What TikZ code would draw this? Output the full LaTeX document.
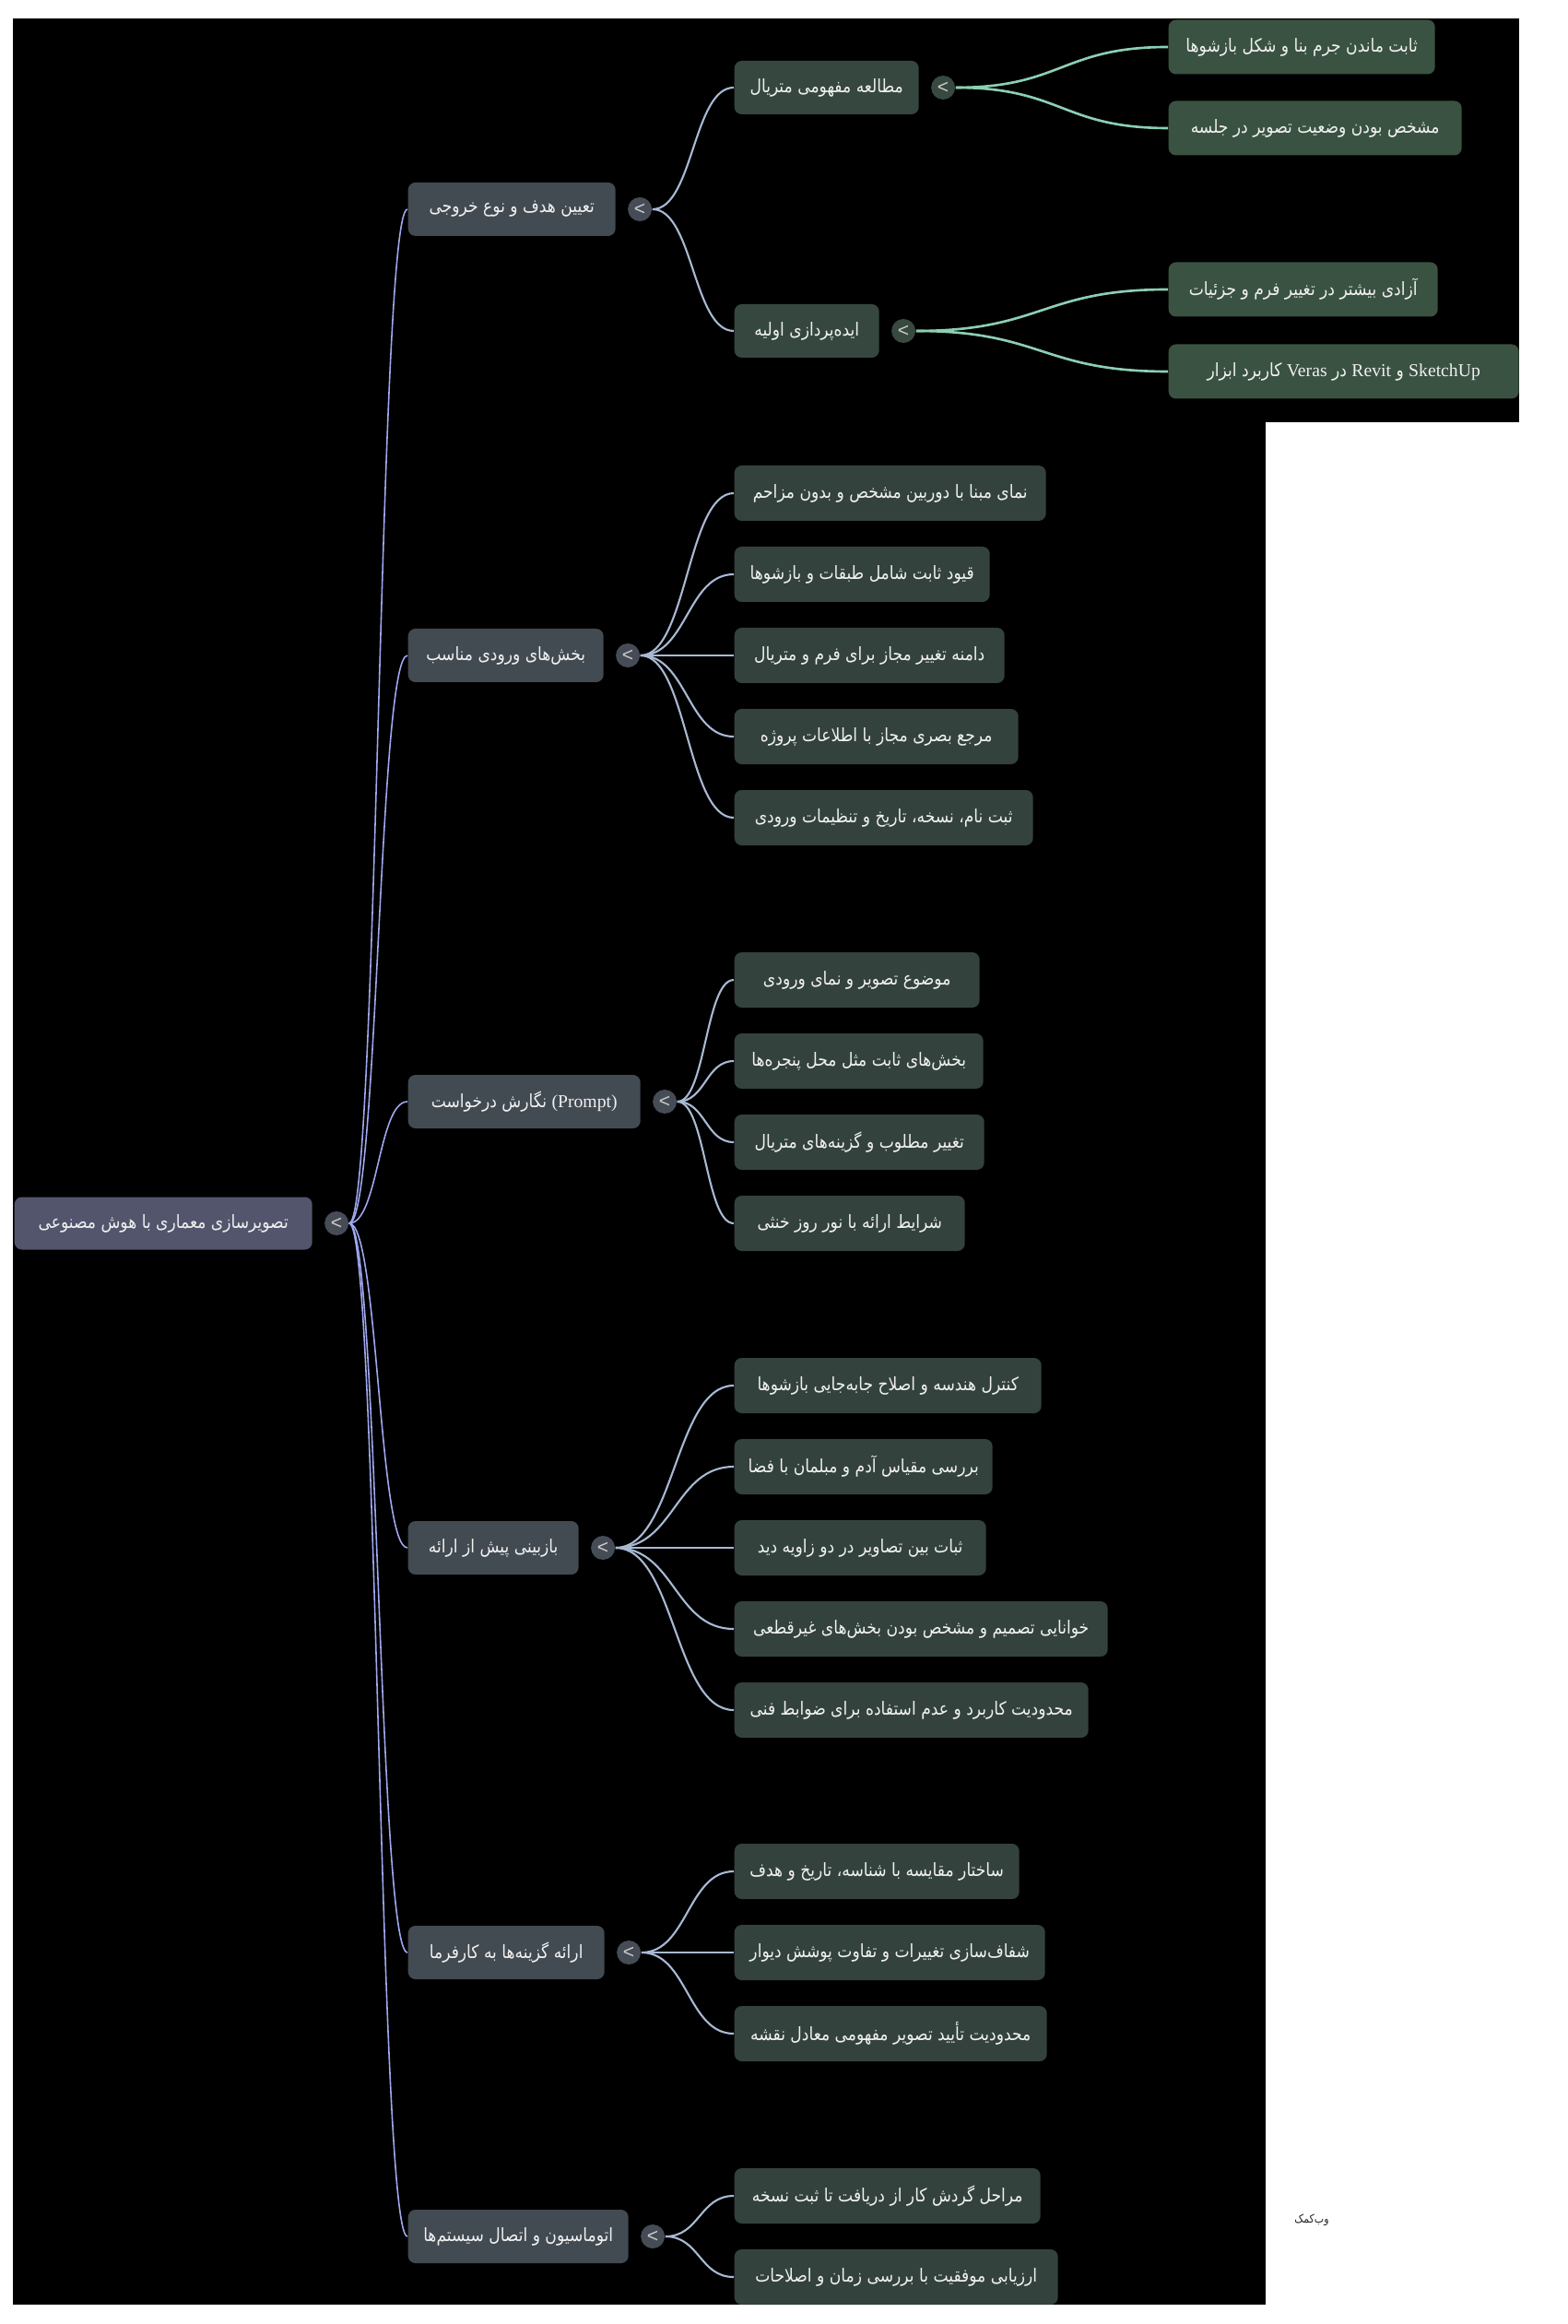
\documentclass[tikz,border=0pt]{standalone}
\usepackage{fontspec}
\usepackage{tikz}
\usetikzlibrary{positioning,calc}
\setmainfont{Liberation Serif}
\newfontfamily\fa[Script=Arabic, FakeStretch=0.87]{DejaVu Sans}
\newfontfamily\ui{Liberation Sans}
\TeXXeTstate=1
\newcommand{\rtl}[1]{\beginR#1\endR}
\definecolor{rootfill}{HTML}{52556C}
\definecolor{topicfill}{HTML}{424A52}
\definecolor{subfill}{HTML}{35473F}
\definecolor{deepfill}{HTML}{3A5242}
\definecolor{leaffill}{HTML}{33423D}
\definecolor{togglefill}{HTML}{454C56}
\definecolor{subtoggle}{HTML}{384940}
\definecolor{rootedge}{HTML}{A0A8F0}
\definecolor{topicedge}{HTML}{A8B9D3}
\definecolor{subedge}{HTML}{8CCFB3}
\definecolor{nodetext}{HTML}{F0F0F0}

\begin{document}
\begin{tikzpicture}[
  box/.style={rounded corners=0.08cm, anchor=west, inner sep=0pt, text=nodetext,
              minimum height=0.58cm, font=\fa\fontsize{5.6}{7}\selectfont},
  rootnode/.style={box, fill=rootfill, minimum height=0.57cm},
  topic/.style={box, fill=topicfill},
  sub/.style={box, fill=subfill},
  deep/.style={box, fill=deepfill, minimum height=0.59cm},
  leaf/.style={box, fill=leaffill, minimum height=0.60cm},
  toggle/.style={circle, inner sep=0pt, minimum size=0.26cm, fill=togglefill,
                 text=nodetext!85!black, font=\ui\fontsize{6}{6}\selectfont},
  link/.style={to path={let \p1=(\tikztostart), \p2=(\tikztotarget) in
               .. controls ({(\x1+\x2)/2},\y1) and ({(\x1+\x2)/2},\y2) .. (\p2)}},
  every edge/.style={draw, link},
  rootline/.style={draw=rootedge, line width=0.45pt},
  topicline/.style={draw=topicedge, line width=0.6pt},
  subline/.style={draw=subedge, line width=0.75pt}]

  \fill[white] (0,0) rectangle (17,-25.21);
  \useasboundingbox (0,0) rectangle (17,-25.21);
  \fill[black] (0.14,-0.20) rectangle (13.73,-25.00);
  \fill[black] (13.73,-0.20) rectangle (16.48,-4.58);

  \node[rootnode, minimum width=3.23cm] (R) at (0.15,-13.27) {\rtl{تصویرسازی معماری با هوش مصنوعی}};
  \node[toggle, right=0.12cm of R] (tR) {<};

  \node[topic, minimum width=2.25cm] (A) at (4.42,-2.27)  {\rtl{تعیین هدف و نوع خروجی}};
  \node[topic, minimum width=2.12cm] (B) at (4.42,-7.11)  {\rtl{بخش‌های ورودی مناسب}};
  \node[topic, minimum width=2.52cm] (C) at (4.42,-11.95) {\rtl{نگارش درخواست} {\rmfamily(Prompt)}};
  \node[topic, minimum width=1.85cm] (D) at (4.42,-16.79) {\rtl{بازبینی پیش از ارائه}};
  \node[topic, minimum width=2.13cm] (E) at (4.42,-21.18) {\rtl{ارائه گزینه‌ها به کارفرما}};
  \node[topic, minimum width=2.39cm] (F) at (4.42,-24.26) {\rtl{اتوماسیون و اتصال سیستم‌ها}};
  \node[toggle, right=0.12cm of A] (tA) {<};
  \node[toggle, right=0.12cm of B] (tB) {<};
  \node[toggle, right=0.12cm of C] (tC) {<};
  \node[toggle, right=0.12cm of D] (tD) {<};
  \node[toggle, right=0.12cm of E] (tE) {<};
  \node[toggle, right=0.12cm of F] (tF) {<};

  \node[sub, minimum width=2.00cm] (A1) at (7.96,-0.95) {\rtl{مطالعه مفهومی متریال}};
  \node[sub, minimum width=1.57cm] (A2) at (7.96,-3.59) {\rtl{ایده‌پردازی اولیه}};
  \node[toggle, fill=subtoggle, right=0.12cm of A1] (tA1) {<};
  \node[toggle, fill=subtoggle, right=0.12cm of A2] (tA2) {<};

  \node[deep, minimum width=2.89cm] (A11) at (12.67,-0.51) {\rtl{ثابت ماندن جرم بنا و شکل بازشوها}};
  \node[deep, minimum width=3.18cm] (A12) at (12.67,-1.39) {\rtl{مشخص بودن وضعیت تصویر در جلسه}};
  \node[deep, minimum width=2.92cm] (A21) at (12.67,-3.14) {\rtl{آزادی بیشتر در تغییر فرم و جزئیات}};
  \node[deep, minimum width=3.80cm] (A22) at (12.67,-4.03)
    {\rtl{کاربرد ابزار} {\rmfamily Veras} \rtl{در} {\rmfamily Revit} \rtl{و} {\rmfamily SketchUp}};

  \node[leaf, minimum width=3.38cm] (B1) at (7.96,-5.35) {\rtl{نمای مبنا با دوربین مشخص و بدون مزاحم}};
  \node[leaf, minimum width=2.77cm] (B2) at (7.96,-6.23) {\rtl{قیود ثابت شامل طبقات و بازشوها}};
  \node[leaf, minimum width=2.93cm] (B3) at (7.96,-7.11) {\rtl{دامنه تغییر مجاز برای فرم و متریال}};
  \node[leaf, minimum width=3.08cm] (B4) at (7.96,-7.99) {\rtl{مرجع بصری مجاز با اطلاعات پروژه}};
  \node[leaf, minimum width=3.24cm] (B5) at (7.96,-8.87) {\rtl{ثبت نام، نسخه، تاریخ و تنظیمات ورودی}};

  \node[leaf, minimum width=2.66cm] (C1) at (7.96,-10.63) {\rtl{موضوع تصویر و نمای ورودی}};
  \node[leaf, minimum width=2.70cm] (C2) at (7.96,-11.51) {\rtl{بخش‌های ثابت مثل محل پنجره‌ها}};
  \node[leaf, minimum width=2.71cm] (C3) at (7.96,-12.39) {\rtl{تغییر مطلوب و گزینه‌های متریال}};
  \node[leaf, minimum width=2.50cm] (C4) at (7.96,-13.27) {\rtl{شرایط ارائه با نور روز خنثی}};

  \node[leaf, minimum width=3.33cm] (D1) at (7.96,-15.03) {\rtl{کنترل هندسه و اصلاح جابه‌جایی بازشوها}};
  \node[leaf, minimum width=2.80cm] (D2) at (7.96,-15.91) {\rtl{بررسی مقیاس آدم و مبلمان با فضا}};
  \node[leaf, minimum width=2.73cm] (D3) at (7.96,-16.79) {\rtl{ثبات بین تصاویر در دو زاویه دید}};
  \node[leaf, minimum width=4.05cm] (D4) at (7.96,-17.67) {\rtl{خوانایی تصمیم و مشخص بودن بخش‌های غیرقطعی}};
  \node[leaf, minimum width=3.84cm] (D5) at (7.96,-18.55) {\rtl{محدودیت کاربرد و عدم استفاده برای ضوابط فنی}};

  \node[leaf, minimum width=3.09cm] (E1) at (7.96,-20.30) {\rtl{ساختار مقایسه با شناسه، تاریخ و هدف}};
  \node[leaf, minimum width=3.37cm] (E2) at (7.96,-21.18) {\rtl{شفاف‌سازی تغییرات و تفاوت پوشش دیوار}};
  \node[leaf, minimum width=3.39cm] (E3) at (7.96,-22.06) {\rtl{محدودیت تأیید تصویر مفهومی معادل نقشه}};

  \node[leaf, minimum width=3.32cm] (F1) at (7.96,-23.82) {\rtl{مراحل گردش کار از دریافت تا ثبت نسخه}};
  \node[leaf, minimum width=3.51cm] (F2) at (7.96,-24.70) {\rtl{ارزیابی موفقیت با بررسی زمان و اصلاحات}};

  \node[text=black!85, font=\fa\fontsize{3.6}{4}\selectfont] (wm) at (14.23,-24.08) {\rtl{وب‌کمک}};

  \path[rootline] (tR.east) edge (A.west) edge (B.west) edge (C.west)
                            edge (D.west) edge (E.west) edge (F.west);
  \path[topicline] (tA.east) edge (A1.west) edge (A2.west)
                   (tB.east) edge (B1.west) edge (B2.west) edge (B3.west) edge (B4.west) edge (B5.west)
                   (tC.east) edge (C1.west) edge (C2.west) edge (C3.west) edge (C4.west)
                   (tD.east) edge (D1.west) edge (D2.west) edge (D3.west) edge (D4.west) edge (D5.west)
                   (tE.east) edge (E1.west) edge (E2.west) edge (E3.west)
                   (tF.east) edge (F1.west) edge (F2.west);
  \path[subline] (tA1.east) edge (A11.west) edge (A12.west)
                 (tA2.east) edge (A21.west) edge (A22.west);
\end{tikzpicture}
\end{document}
